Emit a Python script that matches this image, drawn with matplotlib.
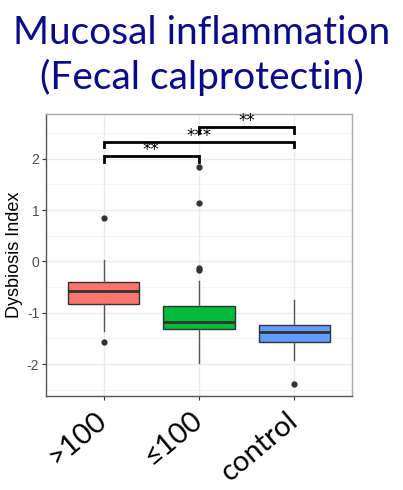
import matplotlib
matplotlib.use("Agg")
import matplotlib.pyplot as plt
from matplotlib.ticker import MultipleLocator

plt.rcParams["axes.unicode_minus"] = False

categories = [">100", "≤100", "control"]
colors = ["#F8766D", "#00BA38", "#619CFF"]
# box stats
q1 = [-0.83, -1.32, -1.57]
med = [-0.57, -1.17, -1.37]
q3 = [-0.41, -0.87, -1.23]
whislo = [-1.35, -1.97, -1.92]
whishi = [0.03, -0.39, -0.75]
outliers = [[0.85, -1.57], [1.83, 1.13, -0.12, -0.16], [-2.38]]

# significance brackets: (group i, group j, height, label)
sig_pairs = [(0, 1), (0, 2), (1, 2)]
sig_heights = [2.05, 2.33, 2.61]
sig_labels = ["**", "***", "**"]

fig = plt.figure(figsize=(4.03, 4.90), dpi=100)
ax = fig.add_axes([46.3/403, 1-396/490, (351.7-46.3)/403, (396-114)/490])

stats = []
for i in range(3):
    stats.append(dict(med=med[i], q1=q1[i], q3=q3[i], whislo=whislo[i],
                      whishi=whishi[i], fliers=outliers[i]))
pos = list(range(1, 4))
bp = ax.bxp(stats, positions=pos, widths=0.75, patch_artist=True,
            boxprops=dict(edgecolor="#333333", linewidth=1.0),
            medianprops=dict(color="#333333", linewidth=2.0),
            whiskerprops=dict(color="#555555", linewidth=1.0),
            capprops=dict(linewidth=0),
            flierprops=dict(marker="o", markerfacecolor="#333333",
                            markeredgecolor="#333333", markersize=3.5),
            zorder=3)
for patch, c in zip(bp["boxes"], colors):
    patch.set_facecolor(c)

for (i, j), h, lab in zip(sig_pairs, sig_heights, sig_labels):
    x1, x2 = pos[i], pos[j]
    ax.plot([x1, x1, x2, x2], [h - 0.11, h, h, h - 0.11], color="black",
            linewidth=2.0, solid_joinstyle="miter", zorder=4, clip_on=False)
    ax.text((x1 + x2) / 2, h - 0.06, lab, ha="center", va="bottom",
            fontsize=12, color="black", family="DejaVu Sans")

ax.set_xlim(0.4, 3.6)
ax.set_ylim(-2.62, 2.87)
ax.yaxis.set_major_locator(MultipleLocator(1))
ax.yaxis.set_minor_locator(MultipleLocator(0.5))
ax.set_xticks(pos)
ax.set_xticklabels(categories, rotation=40, ha="right", va="center",
                   rotation_mode="anchor",
                   fontsize=21, family=["Lato", "DejaVu Sans"])
ax.grid(True, which="major", color="#EBEBEB", linewidth=1.0, zorder=0)
ax.grid(True, which="minor", axis="y", color="#F2F2F2", linewidth=0.6, zorder=0)
ax.set_axisbelow(True)
for lab in ax.get_yticklabels():
    lab.set_family(["Liberation Sans Narrow", "Liberation Sans"])
ax.tick_params(axis="y", which="major", labelsize=10, labelcolor="#4D4D4D",
               color="#333333", length=3, pad=2)
ax.tick_params(axis="y", which="minor", length=0)
ax.tick_params(axis="x", color="#333333", length=3, pad=12)
for s in ["top", "right"]:
    ax.spines[s].set_color("#AAAAAA")
for s in ["left", "bottom"]:
    ax.spines[s].set_color("#555555")
for s in ax.spines.values():
    s.set_linewidth(1.0)

ax.set_ylabel("Dysbiosis Index", fontsize=13, family="Liberation Sans",
              labelpad=3)

fig.text(0.5, 1 - 33/490, "Mucosal inflammation", ha="center", va="center",
         fontsize=28, color="#0B0B8A", family="Lato")
fig.text(0.5, 1 - 77/490, "(Fecal calprotectin)", ha="center", va="center",
         fontsize=28, color="#0B0B8A", family="Lato")

fig.savefig("out.png", dpi=100)
